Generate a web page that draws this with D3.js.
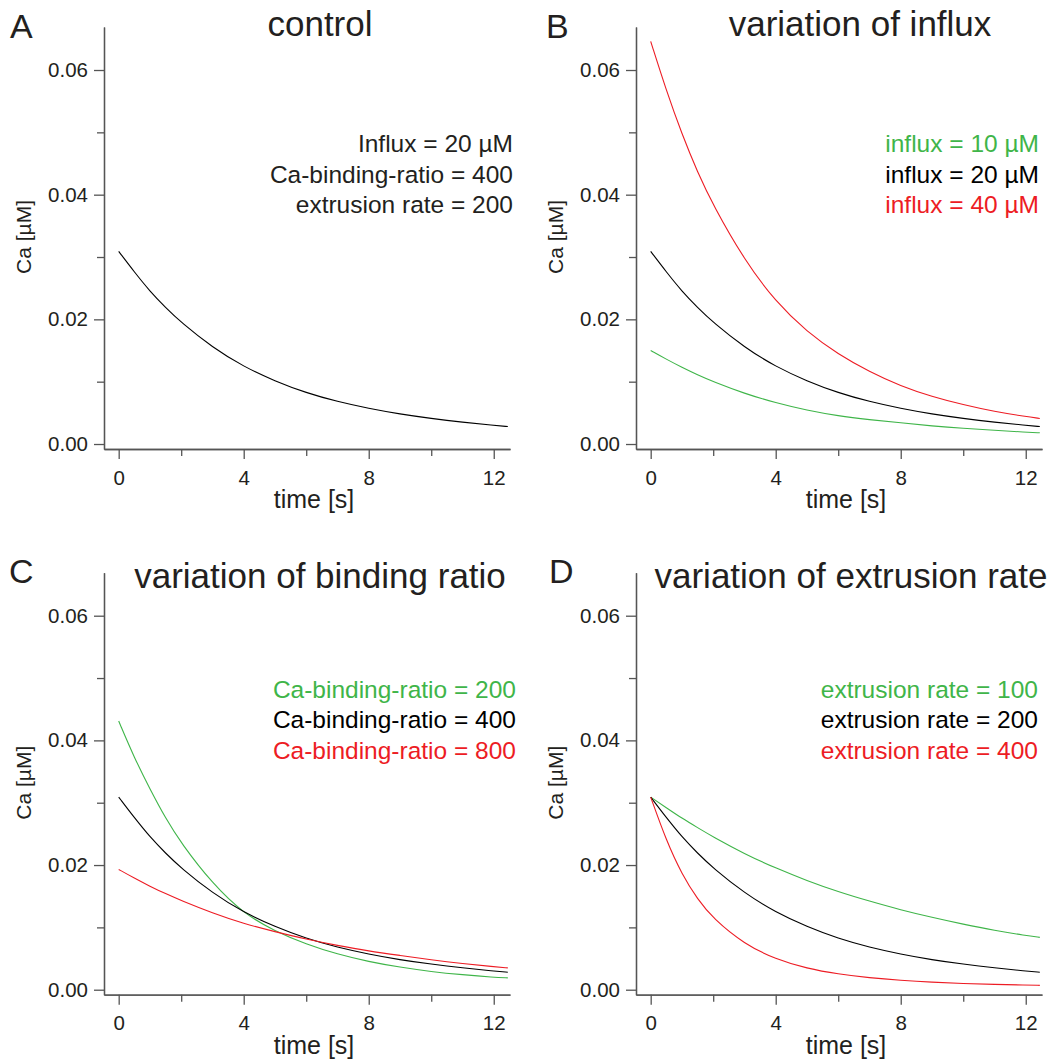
<!DOCTYPE html>
<html>
<head>
<meta charset="utf-8">
<script src="https://cdn.jsdelivr.net/npm/d3@7"></script>
<style>
  body { margin: 0; background: #fff; }
  text { font-family: "Liberation Sans", Arial, Helvetica, sans-serif; }
</style>
</head>
<body>
<script>
// time points (s)
var timeS = [0, 0.5, 1, 1.5, 2, 3, 4, 5, 6, 7, 8, 9, 10, 11, 12, 12.45];

// Ca [uM] values
var caControl  = [0.0309, 0.0276, 0.0245, 0.0219, 0.0195, 0.0155, 0.0124, 0.0101, 0.0082, 0.0068, 0.0057, 0.0048, 0.0041, 0.0035, 0.0030, 0.0028];
var caInflux10 = [0.0150, 0.0136, 0.0123, 0.0111, 0.0100, 0.0081, 0.0066, 0.0054, 0.0045, 0.0039, 0.0034, 0.0029, 0.0025, 0.0022, 0.0019, 0.0018];
var caInflux40 = [0.0646, 0.0567, 0.0497, 0.0436, 0.0383, 0.0295, 0.0228, 0.0180, 0.0144, 0.0116, 0.0093, 0.0076, 0.0063, 0.0052, 0.0044, 0.0041];
var caRatio200 = [0.0431, 0.0372, 0.0322, 0.0275, 0.0235, 0.0170, 0.0122, 0.0094, 0.0073, 0.0057, 0.0045, 0.0036, 0.0029, 0.0024, 0.0020, 0.0019];
var caRatio800 = [0.0193, 0.0179, 0.0166, 0.0154, 0.0143, 0.0123, 0.0106, 0.0093, 0.0081, 0.0071, 0.0062, 0.0055, 0.0048, 0.0042, 0.0037, 0.0035];
var caExtr100  = [0.0309, 0.0292, 0.0275, 0.0260, 0.0245, 0.0218, 0.0195, 0.0175, 0.0157, 0.0142, 0.0128, 0.0116, 0.0105, 0.0095, 0.0087, 0.0084];
var caExtr400  = [0.0309, 0.0239, 0.0185, 0.0145, 0.0114, 0.0073, 0.0049, 0.0034, 0.0025, 0.0019, 0.0015, 0.0012, 0.0010, 0.00085, 0.00075, 0.0007];

var yTicks = [0, 0.02, 0.04, 0.06];
var yMinorTicks = [0.01, 0.03, 0.05];
var xTicks = [0, 4, 8, 12];
var xMinorTicks = [2, 6, 10];

var panelLetters = ['A', 'B', 'C', 'D'];
var panelTitles = ['control', 'variation of influx', 'variation of binding ratio', 'variation of extrusion rate'];
var legendA = ['Influx = 20 \u00b5M', 'Ca-binding-ratio = 400', 'extrusion rate = 200'];
var legendB = ['influx = 10 \u00b5M', 'influx = 20 \u00b5M', 'influx = 40 \u00b5M'];
var legendC = ['Ca-binding-ratio = 200', 'Ca-binding-ratio = 400', 'Ca-binding-ratio = 800'];
var legendD = ['extrusion rate = 100', 'extrusion rate = 200', 'extrusion rate = 400'];

var green = '#3fb549', red = '#ed1c24', black = '#000', textCol = '#231f20', axisCol = '#555';

var svg = d3.select('body').append('svg')
  .attr('width', 1062)
  .attr('height', 1064);

// layout of the four panels
var panels = [
  { dx: 0,   dy: 0,     letterX: 10,  titleX: 320, legendX: 513,  titleY: 36,
    series: [caControl], colors: [black], legend: legendA, legendColors: [textCol, textCol, textCol] },
  { dx: 532, dy: 0,     letterX: 546, titleX: 860, legendX: 1039, titleY: 36,
    series: [caInflux10, caControl, caInflux40], colors: [green, black, red], legend: legendB, legendColors: [green, black, red] },
  { dx: 0,   dy: 545.7, letterX: 9,   titleX: 320, legendX: 516,  titleY: 42,
    series: [caRatio200, caControl, caRatio800], colors: [green, black, red], legend: legendC, legendColors: [green, black, red] },
  { dx: 532, dy: 545.7, letterX: 549, titleX: 851, legendX: 1038, titleY: 42,
    series: [caExtr100, caControl, caExtr400], colors: [green, black, red], legend: legendD, legendColors: [green, black, red] }
];

var x = d3.scaleLinear().domain([-0.47, 12.52]).range([104, 510]);
var y = d3.scaleLinear().domain([-0.0008, 0.0669]).range([449, 27]);

function styleAxis(sel) {
  sel.select('.domain').attr('stroke', axisCol).attr('stroke-width', 1.3);
  sel.selectAll('.tick line').attr('stroke', axisCol).attr('stroke-width', 1.3);
  sel.selectAll('.tick text').attr('fill', textCol)
    .style('font-family', '"Liberation Sans", Arial, sans-serif').style('font-size', '20.5px');
}

panels.forEach(function(p, i) {
  var g = svg.append('g').attr('transform', 'translate(' + p.dx + ',' + p.dy + ')');

  // y axis
  g.append('g').attr('transform', 'translate(104,0)')
    .call(d3.axisLeft(y).tickValues(yMinorTicks).tickSize(7).tickSizeOuter(0).tickFormat(''))
    .call(styleAxis);
  g.append('g').attr('transform', 'translate(104,0)')
    .call(d3.axisLeft(y).tickValues(yTicks).tickSize(10).tickSizeOuter(0).tickPadding(6).tickFormat(d3.format('.2f')))
    .call(styleAxis);

  // x axis
  g.append('g').attr('transform', 'translate(0,449)')
    .call(d3.axisBottom(x).tickValues(xMinorTicks).tickSize(7).tickSizeOuter(0).tickFormat(''))
    .call(styleAxis);
  g.append('g').attr('transform', 'translate(0,449)')
    .call(d3.axisBottom(x).tickValues(xTicks).tickSize(10).tickSizeOuter(0).tickPadding(11))
    .call(styleAxis);

  // axis titles
  g.append('text')
    .attr('transform', 'translate(31,237) rotate(-90)')
    .attr('text-anchor', 'middle')
    .attr('fill', textCol)
    .style('font-size', '21px')
    .text('Ca [\u00b5M]');
  g.append('text')
    .attr('x', 314).attr('y', 508)
    .attr('text-anchor', 'middle')
    .attr('fill', textCol)
    .style('font-size', '25px')
    .text('time [s]');

  // curves
  var line = d3.line()
    .x(function(d) { return x(d[0]); })
    .y(function(d) { return y(d[1]); })
    .curve(d3.curveBasis);
  p.series.forEach(function(vals, k) {
    g.append('path')
      .datum(timeS.map(function(t, j) { return [t, vals[j]]; }))
      .attr('fill', 'none')
      .attr('stroke', p.colors[k])
      .attr('stroke-width', 1.1)
      .attr('d', line);
  });

  // legend text
  p.legend.forEach(function(txt, k) {
    g.append('text')
      .attr('x', p.legendX - p.dx)
      .attr('y', 152 + k * 30.5)
      .attr('text-anchor', 'end')
      .attr('fill', p.legendColors[k])
      .style('font-size', '24.5px')
      .text(txt);
  });

  // title and panel letter
  g.append('text')
    .attr('x', p.titleX - p.dx).attr('y', p.titleY)
    .attr('text-anchor', 'middle')
    .attr('fill', textCol)
    .style('font-size', '35px')
    .text(panelTitles[i]);
  g.append('text')
    .attr('x', p.letterX - p.dx).attr('y', 37.5)
    .attr('fill', textCol)
    .style('font-size', '34px')
    .text(panelLetters[i]);
});
</script>
</body>
</html>
